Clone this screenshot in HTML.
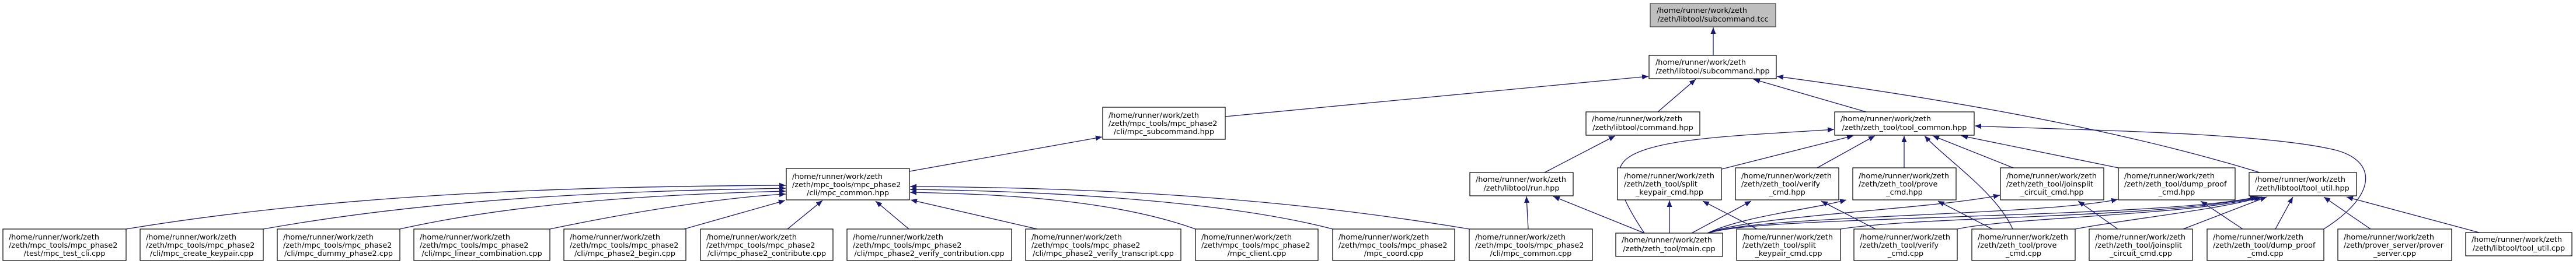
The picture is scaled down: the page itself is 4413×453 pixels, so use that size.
<!DOCTYPE html>
<html><head><meta charset="utf-8"><style>
html,body{margin:0;padding:0;background:#fff;}
svg{display:block;}
text{font-family:"DejaVu Sans","Liberation Sans",sans-serif;font-size:12.8px;fill:#000;}
.e{fill:none;stroke:#191970;stroke-width:1.3;}
.n{fill:#fff;stroke:#000;stroke-width:1.2;}
</style></head><body>
<svg width="4413" height="453" viewBox="0 0 4413 453" xmlns="http://www.w3.org/2000/svg">
<defs><marker id="a" markerUnits="userSpaceOnUse" markerWidth="12" markerHeight="10" refX="11" refY="4.5" orient="auto"><path d="M0,0 L11,4.5 L0,9 z" fill="#191970"/></marker></defs>
<g class="e" marker-end="url(#a)">
<path d="M2935,95 L2935,47"/>
<path d="M2099,200 L2824,131"/>
<path d="M2840,192 L2905,136"/>
<path d="M3197,192 L3004,136"/>
<path d="M3871,296 Q3560,200 3044,131"/>
<path d="M1558,294 L1888,235"/>
<path d="M2646,296 L2767,233"/>
<path d="M2817,400 C2770,330 2760,290 2790,270 C2840,235 3000,232 3142,222"/>
<path d="M2950,290 L3175,233"/>
<path d="M3113,288 L3212,233"/>
<path d="M3262,288 L3262,233"/>
<path d="M3448,393 C3420,330 3330,270 3297,233"/>
<path d="M3449,288 L3311,233"/>
<path d="M3629,288 L3360,233"/>
<path d="M3981,393 C4080,330 4070,270 3990,255 C3850,225 3500,222 3383,216"/>
<path d="M2618,393 L2615,337"/>
<path d="M2817,400 L2661,337"/>
<path d="M2860,400 L2860,344"/>
<path d="M3010,393 L2917,345"/>
<path d="M2898,400 L3000,345"/>
<path d="M2925,400 C2990,370 3100,360 3163,343"/>
<path d="M2925,400 C3000,370 3300,360 3426,335"/>
<path d="M2928,400 C3000,370 3500,370 3628,342"/>
<path d="M2928,400 C3000,370 3700,375 3866,338"/>
<path d="M3213,393 L3120,345"/>
<path d="M3413,393 L3320,345"/>
<path d="M3628,393 L3560,345"/>
<path d="M3842,393 L3770,345"/>
<path d="M3153,393 C3300,370 3700,375 3868,338"/>
<path d="M3353,393 C3450,372 3750,370 3872,338"/>
<path d="M3555,393 C3650,375 3800,360 3875,338"/>
<path d="M3740,393 L3883,338"/>
<path d="M3898,393 L3928,338"/>
<path d="M4061,393 L3981,338"/>
<path d="M4247,399 L4020,338"/>
<path d="M216,393 C600,330 1000,320 1346,318"/>
<path d="M451,393 C750,340 1050,328 1346,323"/>
<path d="M685,393 C900,345 1150,333 1346,328"/>
<path d="M942,393 C1100,360 1250,338 1346,333"/>
<path d="M1172,393 L1345,344"/>
<path d="M1349,393 L1409,344"/>
<path d="M1557,393 L1500,345"/>
<path d="M1777,393 L1560,343"/>
<path d="M2048,393 C1900,340 1700,333 1559,330"/>
<path d="M2283,393 C2100,345 1800,328 1559,325"/>
<path d="M2517,393 C2200,340 1900,322 1559,320"/>
</g>
<g>
<rect x="2827" y="6" width="215" height="40" fill="#bfbfbf" stroke="#404040" stroke-width="1.2"/>
<text x="2838" y="22">/home/runner/work/zeth</text><text x="2934.5" y="37" text-anchor="middle">/zeth/libtool/subcommand.tcc</text>

<rect class="n" x="2825" y="95" width="218" height="40"/>
<text x="2836" y="111">/home/runner/work/zeth</text><text x="2934" y="126" text-anchor="middle">/zeth/libtool/subcommand.hpp</text>

<rect class="n" x="1889" y="184" width="210" height="55"/>
<text x="1899" y="202">/home/runner/work/zeth</text><text x="1899" y="216">/zeth/mpc_tools/mpc_phase2</text><text x="1994" y="230" text-anchor="middle">/cli/mpc_subcommand.hpp</text>

<rect class="n" x="2717" y="192" width="195" height="40"/>
<text x="2727" y="208">/home/runner/work/zeth</text><text x="2814.5" y="223" text-anchor="middle">/zeth/libtool/command.hpp</text>

<rect class="n" x="3143" y="192" width="239" height="40"/>
<text x="3153" y="208">/home/runner/work/zeth</text><text x="3262.5" y="223" text-anchor="middle">/zeth/zeth_tool/tool_common.hpp</text>

<rect class="n" x="1347" y="289" width="211" height="54"/>
<text x="1357" y="307">/home/runner/work/zeth</text><text x="1357" y="321">/zeth/mpc_tools/mpc_phase2</text><text x="1452.5" y="335" text-anchor="middle">/cli/mpc_common.hpp</text>

<rect class="n" x="2518" y="296" width="177" height="40"/>
<text x="2528" y="312">/home/runner/work/zeth</text><text x="2606.5" y="327" text-anchor="middle">/zeth/libtool/run.hpp</text>

<rect class="n" x="2771" y="288" width="178" height="55"/>
<text x="2782" y="306">/home/runner/work/zeth</text><text x="2782" y="320">/zeth/zeth_tool/split</text><text x="2860" y="334" text-anchor="middle">_keypair_cmd.hpp</text>

<rect class="n" x="2973" y="288" width="177" height="55"/>
<text x="2983" y="306">/home/runner/work/zeth</text><text x="2983" y="320">/zeth/zeth_tool/verify</text><text x="3061.5" y="334" text-anchor="middle">_cmd.hpp</text>

<rect class="n" x="3174" y="288" width="177" height="55"/>
<text x="3184" y="306">/home/runner/work/zeth</text><text x="3184" y="320">/zeth/zeth_tool/prove</text><text x="3262.5" y="334" text-anchor="middle">_cmd.hpp</text>

<rect class="n" x="3427" y="288" width="177" height="55"/>
<text x="3437" y="306">/home/runner/work/zeth</text><text x="3437" y="320">/zeth/zeth_tool/joinsplit</text><text x="3515.5" y="334" text-anchor="middle">_circuit_cmd.hpp</text>

<rect class="n" x="3629" y="288" width="200" height="55"/>
<text x="3639" y="306">/home/runner/work/zeth</text><text x="3639" y="320">/zeth/zeth_tool/dump_proof</text><text x="3729" y="334" text-anchor="middle">_cmd.hpp</text>

<rect class="n" x="3853" y="296" width="184" height="40"/>
<text x="3863" y="312">/home/runner/work/zeth</text><text x="3945" y="327" text-anchor="middle">/zeth/libtool/tool_util.hpp</text>

<rect class="n" x="5" y="393" width="211" height="54"/>
<text x="15" y="411">/home/runner/work/zeth</text><text x="15" y="425">/zeth/mpc_tools/mpc_phase2</text><text x="110.5" y="439" text-anchor="middle">/test/mpc_test_cli.cpp</text>

<rect class="n" x="240" y="393" width="211" height="54"/>
<text x="250" y="411">/home/runner/work/zeth</text><text x="250" y="425">/zeth/mpc_tools/mpc_phase2</text><text x="345.5" y="439" text-anchor="middle">/cli/mpc_create_keypair.cpp</text>

<rect class="n" x="475" y="393" width="210" height="54"/>
<text x="485" y="411">/home/runner/work/zeth</text><text x="485" y="425">/zeth/mpc_tools/mpc_phase2</text><text x="580" y="439" text-anchor="middle">/cli/mpc_dummy_phase2.cpp</text>

<rect class="n" x="709" y="393" width="233" height="54"/>
<text x="719" y="411">/home/runner/work/zeth</text><text x="719" y="425">/zeth/mpc_tools/mpc_phase2</text><text x="825.5" y="439" text-anchor="middle">/cli/mpc_linear_combination.cpp</text>

<rect class="n" x="966" y="393" width="209" height="54"/>
<text x="976" y="411">/home/runner/work/zeth</text><text x="976" y="425">/zeth/mpc_tools/mpc_phase2</text><text x="1070.5" y="439" text-anchor="middle">/cli/mpc_phase2_begin.cpp</text>

<rect class="n" x="1200" y="393" width="227" height="54"/>
<text x="1210" y="411">/home/runner/work/zeth</text><text x="1210" y="425">/zeth/mpc_tools/mpc_phase2</text><text x="1313.5" y="439" text-anchor="middle">/cli/mpc_phase2_contribute.cpp</text>

<rect class="n" x="1451" y="393" width="282" height="54"/>
<text x="1461" y="411">/home/runner/work/zeth</text><text x="1461" y="425">/zeth/mpc_tools/mpc_phase2</text><text x="1592" y="439" text-anchor="middle">/cli/mpc_phase2_verify_contribution.cpp</text>

<rect class="n" x="1757" y="393" width="266" height="54"/>
<text x="1767" y="411">/home/runner/work/zeth</text><text x="1767" y="425">/zeth/mpc_tools/mpc_phase2</text><text x="1890" y="439" text-anchor="middle">/cli/mpc_phase2_verify_transcript.cpp</text>

<rect class="n" x="2048" y="393" width="210" height="54"/>
<text x="2058" y="411">/home/runner/work/zeth</text><text x="2058" y="425">/zeth/mpc_tools/mpc_phase2</text><text x="2153" y="439" text-anchor="middle">/mpc_client.cpp</text>

<rect class="n" x="2283" y="393" width="209" height="54"/>
<text x="2293" y="411">/home/runner/work/zeth</text><text x="2293" y="425">/zeth/mpc_tools/mpc_phase2</text><text x="2387.5" y="439" text-anchor="middle">/mpc_coord.cpp</text>

<rect class="n" x="2517" y="393" width="211" height="54"/>
<text x="2527" y="411">/home/runner/work/zeth</text><text x="2527" y="425">/zeth/mpc_tools/mpc_phase2</text><text x="2622.5" y="439" text-anchor="middle">/cli/mpc_common.cpp</text>

<rect class="n" x="2768" y="400" width="183" height="40"/>
<text x="2778" y="416">/home/runner/work/zeth</text><text x="2859.5" y="431" text-anchor="middle">/zeth/zeth_tool/main.cpp</text>

<rect class="n" x="2975" y="393" width="178" height="54"/>
<text x="2985" y="411">/home/runner/work/zeth</text><text x="2985" y="425">/zeth/zeth_tool/split</text><text x="3064" y="439" text-anchor="middle">_keypair_cmd.cpp</text>

<rect class="n" x="3176" y="393" width="177" height="54"/>
<text x="3186" y="411">/home/runner/work/zeth</text><text x="3186" y="425">/zeth/zeth_tool/verify</text><text x="3264.5" y="439" text-anchor="middle">_cmd.cpp</text>

<rect class="n" x="3378" y="393" width="177" height="54"/>
<text x="3388" y="411">/home/runner/work/zeth</text><text x="3388" y="425">/zeth/zeth_tool/prove</text><text x="3466.5" y="439" text-anchor="middle">_cmd.cpp</text>

<rect class="n" x="3579" y="393" width="177" height="54"/>
<text x="3589" y="411">/home/runner/work/zeth</text><text x="3589" y="425">/zeth/zeth_tool/joinsplit</text><text x="3667.5" y="439" text-anchor="middle">_circuit_cmd.cpp</text>

<rect class="n" x="3781" y="393" width="200" height="54"/>
<text x="3791" y="411">/home/runner/work/zeth</text><text x="3791" y="425">/zeth/zeth_tool/dump_proof</text><text x="3881" y="439" text-anchor="middle">_cmd.cpp</text>

<rect class="n" x="4005" y="393" width="195" height="54"/>
<text x="4015" y="411">/home/runner/work/zeth</text><text x="4015" y="425">/zeth/prover_server/prover</text><text x="4102.5" y="439" text-anchor="middle">_server.cpp</text>

<rect class="n" x="4224" y="399" width="182" height="40"/>
<text x="4234" y="415">/home/runner/work/zeth</text><text x="4315" y="430" text-anchor="middle">/zeth/libtool/tool_util.cpp</text>
</g>
</svg>
</body></html>
